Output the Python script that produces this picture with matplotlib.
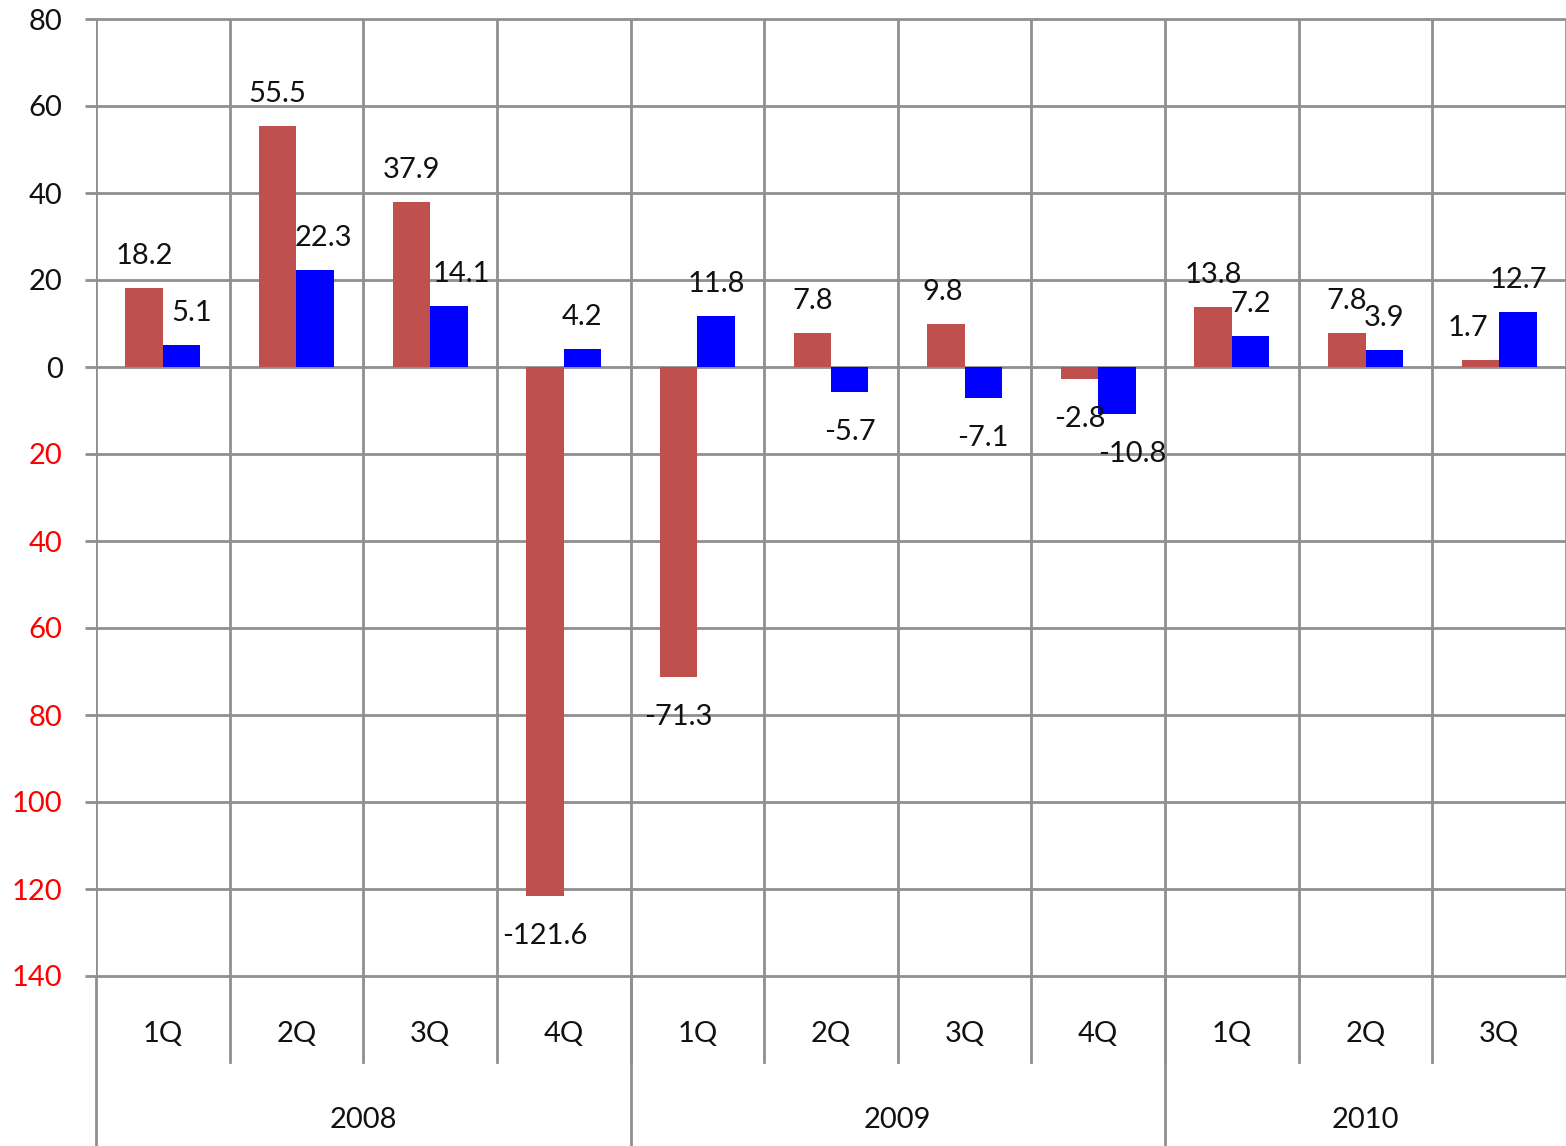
import numpy as np
import matplotlib
matplotlib.use("Agg")
from matplotlib import pyplot as plt
from matplotlib.lines import Line2D

plt.rcParams['font.family'] = ['Lato', 'DejaVu Sans']

# data
quarters = ["1Q", "2Q", "3Q", "4Q", "1Q", "2Q", "3Q", "4Q", "1Q", "2Q", "3Q"]
years = ["2008", "2009", "2010"]
year_spans = [4, 4, 3]
series_red = [18.2, 55.5, 37.9, -121.6, -71.3, 7.8, 9.8, -2.8, 13.8, 7.8, 1.7]
series_blue = [5.1, 22.3, 14.1, 4.2, 11.8, -5.7, -7.1, -10.8, 7.2, 3.9, 12.7]
y_ticks = [80, 60, 40, 20, 0, -20, -40, -60, -80, -100, -120, -140]

# small horizontal label nudges (points), like excel's overlap shifting
nudge_red = [0, 0, 0, 0, 0, 0, -2, 0, 0, 0, -9]
nudge_blue = [7, 6, 9, 0, 0, 0, 0, 11, 0, 0, 0]

W, H = 1566, 1146
fig = plt.figure(figsize=(W / 100, H / 100), dpi=100)
ax = fig.add_axes([96 / W, 1 - 976 / H, 1 - 96 / W, (976 - 19) / H])

grid_c = '#8f8f8f'
x = np.arange(len(quarters))
bw = 0.28
ax.bar(x - bw / 2, series_red, bw, color='#C0504D', zorder=3)
ax.bar(x + bw / 2, series_blue, bw, color='#0000FF', zorder=3)

ax.set_xlim(-0.5, len(quarters) - 0.5)
ax.set_ylim(-140, 80)

# value labels
fs = 21
for xs, vals, nud in ((x - bw / 2, series_red, nudge_red), (x + bw / 2, series_blue, nudge_blue)):
    for xi, v, n in zip(xs, vals, nud):
        off = 23 if v >= 0 else -29
        ax.annotate(f"{v:.1f}", (xi, v), xytext=(n, off), textcoords='offset points',
                    ha='center', va='center', fontsize=fs, color='#111111', zorder=4)

# y axis: absolute values, negatives in red
ax.set_yticks(y_ticks)
ax.set_yticklabels([str(abs(t)) for t in y_ticks], fontsize=fs)
for lab, t in zip(ax.get_yticklabels(), y_ticks):
    lab.set_color('red' if t < 0 else '#111111')
ax.tick_params(axis='y', length=8, width=2, color=grid_c, pad=16)
ax.tick_params(axis='x', length=0, labelbottom=False)
ax.set_xticks([])

for t in y_ticks:
    ax.axhline(t, color=grid_c, lw=2, zorder=1, clip_on=False)
for b in np.arange(-0.5, len(quarters), 1.0):
    ax.axvline(b, color=grid_c, lw=2, zorder=1)

for s in ax.spines.values():
    s.set_visible(False)

# category axis below the plot
trans = ax.get_xaxis_transform()
ax_h = 976 - 19
q_bottom = -(1062 - 976) / ax_h
y_bottom = -(1146 - 976) / ax_h
for i, q in enumerate(quarters):
    ax.text(i, -(1034 - 976) / ax_h, q, transform=trans, ha='center', va='center',
            fontsize=fs, color='#111111')
for b in np.arange(0.5, len(quarters) - 1, 1.0):
    ax.add_line(Line2D([b, b], [0, q_bottom], transform=trans, color=grid_c, lw=2, clip_on=False))
start = -0.5
for yr, span in zip(years, year_spans):
    ax.add_line(Line2D([start, start], [0, y_bottom], transform=trans, color=grid_c, lw=2, clip_on=False))
    ax.text(start + span / 2, -(1120 - 976) / ax_h, yr, transform=trans, ha='center', va='center',
            fontsize=fs, color='#111111')
    start += span

fig.savefig("out.png", dpi=100)
